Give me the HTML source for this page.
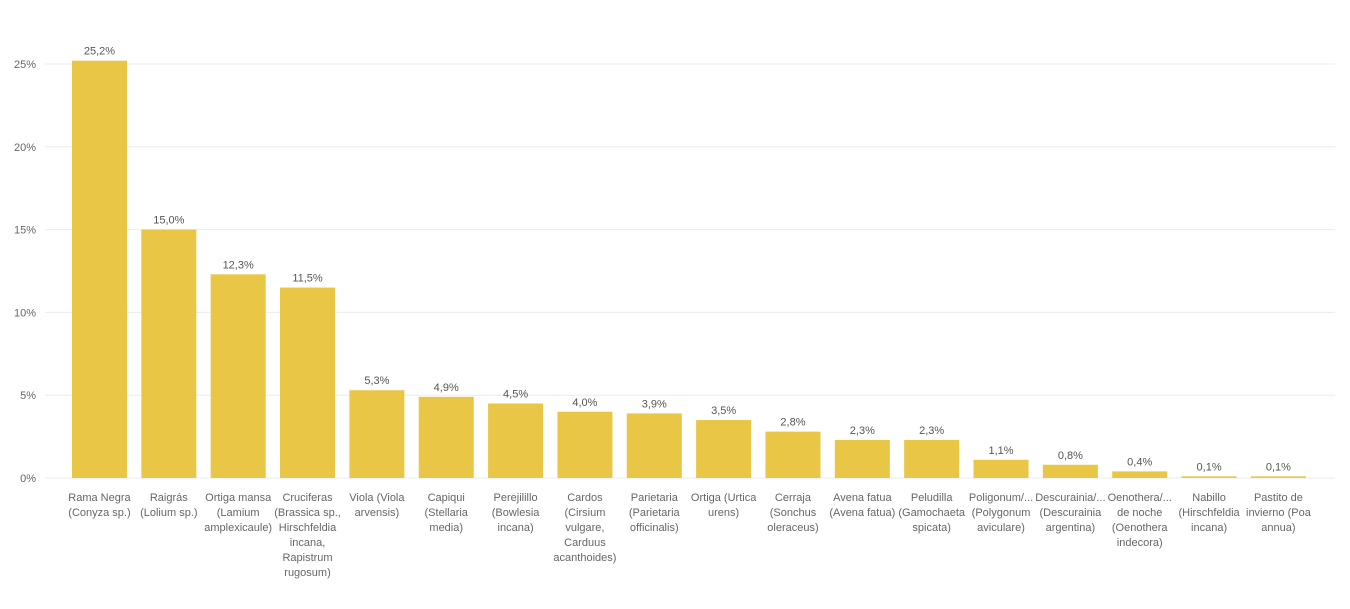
<!DOCTYPE html>
<html><head><meta charset="utf-8"><style>
body{margin:0;background:#fff;}
svg{display:block;font-family:"Liberation Sans",sans-serif;}
</style></head><body>
<svg id="chart" width="1350" height="609" viewBox="0 0 1350 609"></svg>
<script>
const categories=[
["Rama Negra","(Conyza sp.)"],["Raigrás","(Lolium sp.)"],["Ortiga mansa","(Lamium","amplexicaule)"],
["Cruciferas","(Brassica sp.,","Hirschfeldia","incana,","Rapistrum","rugosum)"],["Viola (Viola","arvensis)"],
["Capiqui","(Stellaria","media)"],["Perejilillo","(Bowlesia","incana)"],["Cardos","(Cirsium","vulgare,","Carduus","acanthoides)"],
["Parietaria","(Parietaria","officinalis)"],["Ortiga (Urtica","urens)"],["Cerraja","(Sonchus","oleraceus)"],
["Avena fatua","(Avena fatua)"],["Peludilla","(Gamochaeta","spicata)"],["Poligonum/...","(Polygonum","aviculare)"],
["Descurainia/...","(Descurainia","argentina)"],["Oenothera/...","de noche","(Oenothera","indecora)"],["Nabillo","(Hirschfeldia","incana)"],
["Pastito de","invierno (Poa","annua)"]];
const values=[25.2,15.0,12.3,11.5,5.3,4.9,4.5,4.0,3.9,3.5,2.8,2.3,2.3,1.1,0.8,0.4,0.1,0.1];
const ticks=[0,5,10,15,20,25];
const NS="http://www.w3.org/2000/svg";
const svg=document.getElementById("chart");
const x0=64.8,step=69.35,bw=55,yBase=478,yTop=64;
const y=v=>yBase-(v/25)*(yBase-yTop);
function mk(t,a){const e=document.createElementNS(NS,t);for(const k in a)e.setAttribute(k,a[k]);svg.appendChild(e);return e;}
ticks.forEach(t=>{
  const l=mk("line",{x1:45,x2:1335,y1:y(t),y2:y(t),stroke:"#ebebeb","stroke-width":1});
  
  
  const tx=mk("text",{x:36,y:y(t)+4,"text-anchor":"end","font-size":11,fill:"#666"});
  tx.textContent=t+"%";
  
  
});
values.forEach((v,i)=>{
  const bx=x0+i*step+(step-bw)/2;
  const r=mk("rect",{x:bx,y:y(v),width:bw,height:yBase-y(v),fill:"#E9C646"});
  
  
  const lb=mk("text",{x:bx+bw/2,y:y(v)-6,"text-anchor":"middle","font-size":11,fill:"#555"});
  lb.textContent=v.toFixed(1).replace(".",",")+"%";
  
  
  const ct=mk("text",{"text-anchor":"middle","font-size":11,fill:"#666"});
  
  
  categories[i].forEach((s,j)=>{
    const ts=document.createElementNS(NS,"tspan");
    ts.setAttribute("x",bx+bw/2);ts.setAttribute("y",501+j*15);
    ts.textContent=s;ct.appendChild(ts);
  });
});
</script>
</body></html>
